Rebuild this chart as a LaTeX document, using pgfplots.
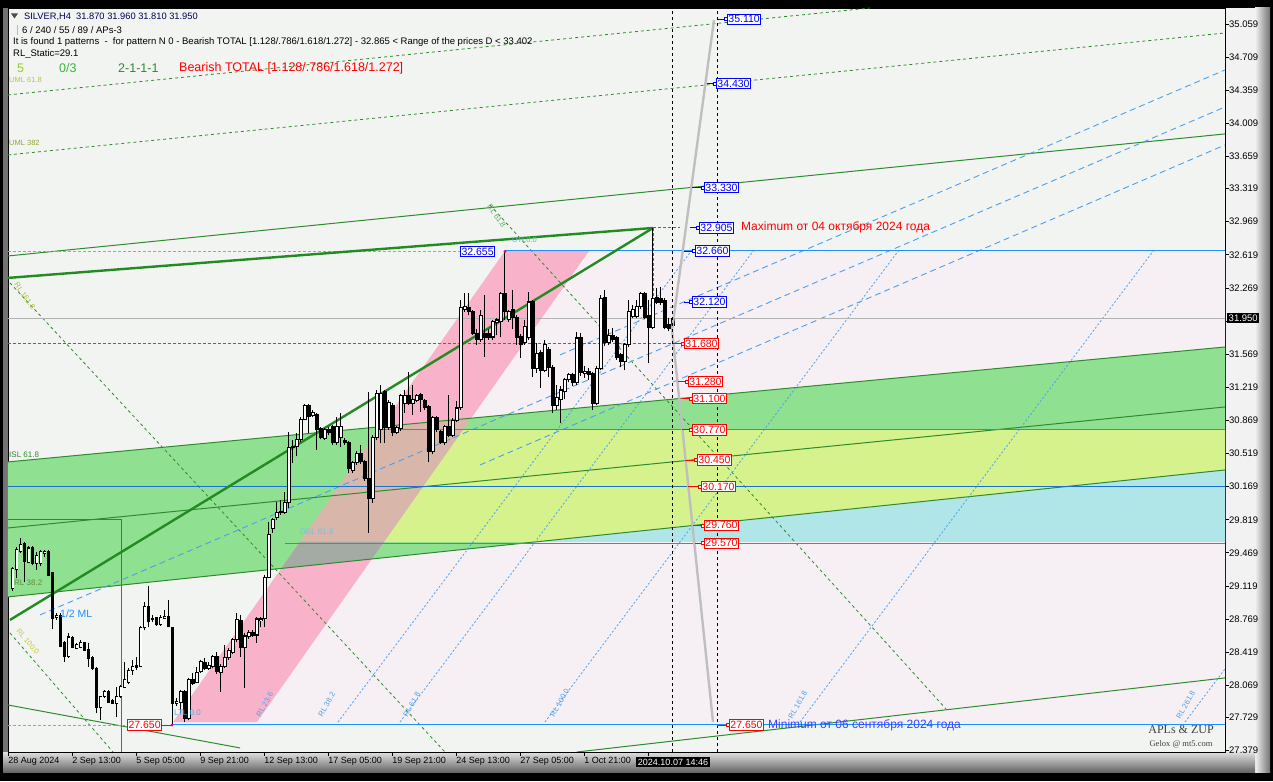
\documentclass[border=0pt]{standalone}
\usepackage{fontspec}
\setmainfont{Liberation Sans}
\newfontfamily\seriffont{Liberation Serif}
\usepackage{pgfplots}
\usepackage{pgfplotstable}
\pgfplotsset{compat=1.18}
\newcommand\fs[1]{\fontsize{#1}{#1}\selectfont}
\definecolor{chartbg}{HTML}{F2F4F1}
\definecolor{pinkbg}{HTML}{F6F0F4}
\definecolor{bandgreen}{HTML}{8FE090}
\definecolor{bandyellow}{HTML}{D6F28C}
\definecolor{bandcyan}{HTML}{B0E6E8}
\definecolor{chanpink}{HTML}{F8B2C9}
\definecolor{rosy}{HTML}{D8B6AA}
\definecolor{grayov}{HTML}{A4ABA4}
\definecolor{dkgreen}{HTML}{2E8B2E}
\definecolor{thkgreen}{HTML}{228B22}
\definecolor{lvlblue}{HTML}{1E90FF}
\definecolor{lblblue}{HTML}{0000FF}
\definecolor{lblred}{HTML}{FF0000}
\definecolor{rlblue}{HTML}{4AA0F0}
\definecolor{panelgray}{HTML}{C8C8C8}
\definecolor{rightpanel}{HTML}{F2F2F2}
\pgfplotsset{candle/.style={only marks, mark=*, mark size=0pt, mark options={draw=none, fill=none}, forget plot,
  error bars/.cd, y dir=plus, y explicit, error mark=none}}

\pgfplotstableread{
i o h l c
0 29.09 29.32 29.07 29.30
1 29.29 29.53 29.20 29.50
2 29.48 29.63 29.47 29.56
3 29.57 29.58 29.16 29.38
4 29.37 29.54 29.36 29.52
5 29.52 29.54 29.34 29.36
6 29.36 29.48 29.29 29.44
7 29.36 29.50 29.33 29.48
8 29.46 29.50 29.43 29.48
9 29.48 29.50 29.22 29.23
10 29.26 29.27 28.66 28.78
11 28.79 28.83 28.76 28.81
12 28.81 28.83 28.47 28.48
13 28.52 28.54 28.31 28.37
14 28.37 28.62 28.36 28.58
15 28.57 28.59 28.46 28.47
16 28.46 28.52 28.45 28.50
17 28.47 28.55 28.46 28.52
18 28.52 28.53 28.43 28.44
19 28.45 28.52 28.26 28.35
20 28.36 28.38 28.23 28.25
21 28.25 28.26 27.78 27.83
22 27.83 27.96 27.70 27.95
23 27.95 28.02 27.94 28.00
24 28.00 28.02 27.88 27.89
25 27.91 27.92 27.87 27.88
26 27.88 28.05 27.73 27.95
27 27.95 28.07 27.94 28.06
28 28.05 28.32 28.05 28.13
29 28.10 28.25 28.08 28.23
30 28.23 28.34 28.18 28.27
31 28.28 28.37 28.23 28.26
32 28.27 28.70 28.26 28.68
33 28.68 28.95 28.65 28.90
34 28.90 29.12 28.68 28.74
35 28.76 28.81 28.74 28.77
36 28.78 28.79 28.70 28.71
37 28.71 28.81 28.70 28.79
38 28.78 28.87 28.77 28.80
39 28.80 28.97 28.68 28.69
40 28.68 28.69 27.65 27.88
41 27.88 27.93 27.85 27.90
42 27.89 28.02 27.78 28.00
43 28.00 28.02 27.68 27.72
44 27.72 28.15 27.70 28.13
45 28.13 28.20 28.07 28.09
46 28.10 28.26 28.09 28.20
47 28.21 28.34 28.20 28.32
48 28.31 28.36 28.23 28.25
49 28.25 28.31 28.23 28.28
50 28.27 28.39 28.25 28.37
51 28.37 28.42 28.19 28.21
52 28.20 28.29 28.00 28.27
53 28.27 28.49 28.25 28.36
54 28.36 28.46 28.34 28.44
55 28.42 28.57 28.40 28.55
56 28.55 28.83 28.53 28.76
57 28.75 28.81 28.37 28.47
58 28.47 28.62 28.04 28.59
59 28.58 28.65 28.56 28.63
60 28.63 28.65 28.58 28.60
61 28.60 28.79 28.52 28.77
62 28.75 28.79 28.68 28.77
63 28.77 29.23 28.68 29.21
64 29.21 29.80 29.20 29.66
65 29.73 29.84 29.68 29.82
66 29.84 30.01 29.82 29.90
67 29.90 30.03 29.87 29.91
68 29.90 30.11 29.88 30.00
69 30.00 30.75 29.94 30.58
70 30.58 30.66 30.42 30.59
71 30.59 30.74 30.49 30.67
72 30.67 30.91 30.64 30.88
73 30.88 31.04 30.87 31.03
74 31.03 31.04 30.74 30.91
75 30.92 30.98 30.90 30.95
76 30.93 30.95 30.56 30.77
77 30.78 30.80 30.67 30.69
78 30.68 30.79 30.66 30.77
79 30.77 30.80 30.71 30.74
80 30.80 30.82 30.61 30.63
81 30.63 30.90 30.61 30.80
82 30.69 30.95 30.59 30.80
83 30.66 30.68 30.61 30.64
84 30.63 30.65 30.31 30.36
85 30.34 30.44 30.31 30.42
86 30.42 30.55 30.40 30.52
87 30.52 30.61 30.41 30.43
88 30.43 30.45 30.23 30.25
89 30.25 31.17 29.68 30.04
90 30.04 30.71 30.00 30.69
91 30.69 31.19 30.66 31.15
92 30.77 31.24 30.63 31.15
93 31.17 31.19 30.63 30.79
94 30.79 31.08 30.77 31.06
95 31.03 31.05 30.70 30.74
96 30.74 30.81 30.72 30.79
97 30.78 31.15 30.76 31.13
98 31.05 31.19 30.95 31.13
99 31.13 31.38 31.03 31.05
100 31.05 31.24 30.93 31.09
101 31.08 31.15 31.06 31.13
102 31.14 31.16 30.96 31.09
103 31.08 31.10 30.98 31.00
104 31.01 31.03 30.43 30.54
105 30.54 30.92 30.51 30.90
106 30.90 30.92 30.75 30.77
107 30.75 30.77 30.62 30.64
108 30.63 30.82 30.61 30.80
109 30.80 31.14 30.69 30.71
110 30.71 30.89 30.69 30.87
111 30.87 31.07 30.85 31.00
112 31.00 32.14 30.98 32.06
113 32.04 32.22 32.02 32.07
114 32.06 32.22 31.98 32.02
115 32.02 32.04 31.77 31.79
116 31.79 31.83 31.67 31.72
117 31.72 32.04 31.70 31.98
118 31.79 32.19 31.54 31.75
119 31.79 31.83 31.72 31.75
120 31.75 31.93 31.72 31.91
121 31.90 31.95 31.77 31.93
122 31.91 32.23 31.75 32.21
123 32.21 32.655 31.93 32.02
124 31.93 32.04 31.91 32.02
125 32.04 32.25 31.83 31.96
126 31.96 31.98 31.67 31.75
127 31.76 31.78 31.53 31.67
128 31.69 31.93 31.67 31.86
129 31.74 32.23 31.72 32.12
130 32.12 32.14 31.33 31.42
131 31.42 31.69 31.37 31.58
132 31.59 31.61 31.21 31.40
133 31.40 31.72 31.38 31.67
134 31.62 31.65 31.33 31.43
135 31.43 31.45 30.95 31.03
136 31.03 31.24 30.98 31.11
137 31.09 31.23 30.84 31.19
138 31.17 31.32 31.09 31.30
139 31.30 31.37 31.27 31.35
140 31.35 31.37 31.23 31.27
141 31.27 31.80 31.24 31.74
142 31.74 31.79 31.34 31.38
143 31.36 31.44 31.32 31.39
144 31.39 31.42 31.30 31.35
145 31.36 31.38 30.98 31.05
146 31.05 31.44 31.03 31.42
147 31.42 32.19 31.40 32.16
148 32.17 32.25 31.66 31.69
149 31.69 31.83 31.67 31.77
150 31.77 31.85 31.70 31.72
151 31.74 31.76 31.51 31.53
152 31.56 31.58 31.43 31.49
153 31.49 31.69 31.40 31.67
154 31.67 32.14 31.65 32.02
155 31.97 32.09 31.95 32.04
156 31.97 32.14 31.95 32.07
157 32.07 32.23 32.05 32.21
158 32.21 32.23 31.94 31.96
159 31.98 32.14 31.48 31.85
160 31.85 32.905 31.83 32.16
161 32.17 32.27 32.10 32.12
162 32.16 32.28 32.09 32.12
163 32.14 32.16 31.83 31.85
164 31.88 31.95 31.81 31.84
165 31.87 31.96 31.81 31.95
}\candles

\begin{document}
\begin{tikzpicture}
\useasboundingbox (0,0) rectangle (1273pt,781pt);
\fill[black] (0,0) rectangle (1273pt,781pt);
\fill[panelgray] (3pt,9pt) rectangle (1270pt,773pt);
\fill[rightpanel] (1225pt,9pt) rectangle (1255pt,773pt);
\shade[left color=rightpanel,right color=black!55] (1255pt,9pt) rectangle (1270pt,773pt);
\shade[top color=black!12,bottom color=black!60] (3pt,9pt) rectangle (1255pt,29pt);
\fill[black!55] (3pt,29pt) rectangle (8pt,773pt);

\begin{axis}[
  at={(8pt,29pt)}, anchor=south west,
  scale only axis, width=1217pt, height=744pt,
  xmin=-1.175, xmax=303.075, ymin=27.364, ymax=35.228,
  axis background/.style={fill=chartbg},
  axis line style={black, line width=0.8pt},
  tick align=outside, major tick length=4pt,
  every tick/.style={black, line width=0.8pt},
  xtick pos=left, ytick pos=right, yticklabel pos=right,
  xtick={-1,15,31,47,63,79,95,111,127,143,159},
  xticklabels={28 Aug 2024, 2 Sep 13:00, 5 Sep 05:00, 9 Sep 21:00, 12 Sep 13:00, 17 Sep 05:00, 19 Sep 21:00, 24 Sep 13:00, 27 Sep 05:00, 1 Oct 21:00, {}},
  xticklabel style={anchor=north west, xshift=-1.5pt, inner sep=1pt, font=\fs{9}},
  ytick={27.379,27.729,28.069,28.419,28.769,29.119,29.469,29.819,30.169,30.519,30.869,31.219,31.569,31.919,32.269,32.619,32.969,33.319,33.659,34.009,34.359,34.709,35.059},
  yticklabels={27.379,27.729,28.069,28.419,28.769,29.119,29.469,29.819,30.169,30.519,30.869,31.219,31.569,{},32.269,32.619,32.969,33.319,33.659,34.009,34.359,34.709,35.059},
  yticklabel style={anchor=west, xshift=-1pt, inner sep=1pt, font=\fs{9.5}},
]
% ---------- background zones ----------
\addplot[fill=pinkbg, draw=none, forget plot] coordinates {(144.08,32.660) (303.08,32.660) (303.08,27.681) (61.08,27.681)} -- cycle;
\addplot[fill=bandgreen, draw=none, forget plot] coordinates {(-1.18,30.430) (303.08,31.645) (303.08,30.345) (-1.18,29.003)} -- cycle;
\addplot[fill=bandyellow, draw=none, forget plot] coordinates {(91.83,30.778) (303.08,30.778) (303.08,30.345) (131.08,29.584) (71.83,29.584)} -- cycle;
\addplot[fill=bandcyan, draw=none, forget plot] coordinates {(131.08,29.584) (303.08,30.345) (303.08,29.584)} -- cycle;
\addplot[fill=chanpink, draw=none, forget plot] coordinates {(40.08,27.681) (61.08,27.681) (144.08,32.660) (123.08,32.660)} -- cycle;
\addplot[fill=rosy, draw=none, forget plot] coordinates {(92.13,30.803) (114.63,30.893) (89.80,29.404) (67.13,29.304)} -- cycle;
\addplot[fill=grayov, draw=none, forget plot] coordinates {(71.80,29.584) (92.80,29.584) (89.80,29.404) (67.13,29.304)} -- cycle;

% ---------- band lines ----------
\addplot[dkgreen, line width=1pt, forget plot] coordinates {(-1.18,30.430) (303.08,31.645)};
\addplot[dkgreen, line width=1pt, forget plot] coordinates {(-1.18,29.003) (303.08,30.345)};
\addplot[dkgreen, line width=1pt, forget plot] coordinates {(-1.18,29.732) (303.08,31.011)};
\addplot[dkgreen, line width=1pt, forget plot] coordinates {(-1.18,32.607) (303.08,33.897)};
\addplot[dkgreen, line width=0.8pt, dash pattern=on 3pt off 3pt, forget plot] coordinates {(-1.18,34.309) (214.33,35.228)};
\addplot[dkgreen, line width=0.8pt, dash pattern=on 3pt off 3pt, forget plot] coordinates {(-1.18,33.675) (303.08,34.964)};
\addplot[dkgreen, line width=0.8pt, dash pattern=on 3pt off 3pt, forget plot] coordinates {(-0.68,32.322) (108.08,27.364)};
\addplot[dkgreen, line width=0.8pt, dash pattern=on 3pt off 3pt, forget plot] coordinates {(-0.68,28.622) (25.08,27.364)};
\addplot[dkgreen, line width=0.8pt, dash pattern=on 3pt off 3pt, forget plot] coordinates {(119.33,33.146) (233.33,27.819)};
\addplot[dkgreen, line width=1pt, forget plot] coordinates {(141.08,27.364) (303.08,28.147)};
\addplot[dkgreen, line width=1pt, forget plot] coordinates {(-1.18,27.861) (56.83,27.407)};
\addplot[dkgreen, line width=0.8pt, forget plot] coordinates {(-1.18,29.827) (27.08,29.827) (27.08,27.364)};

% ---------- blue lines ----------
\addplot[rlblue, line width=0.9pt, dash pattern=on 6pt off 4pt, forget plot] coordinates {(6.83,28.813) (303.08,34.182)};
\addplot[rlblue, line width=0.9pt, dash pattern=on 6pt off 4pt, forget plot] coordinates {(136.83,31.561) (303.08,34.573)};
\addplot[rlblue, line width=0.9pt, dash pattern=on 6pt off 4pt, forget plot] coordinates {(116.83,30.398) (303.08,33.780)};
\addplot[rlblue, line width=0.8pt, dash pattern=on 2pt off 2pt, forget plot] coordinates {(81.33,27.681) (169.83,32.671)};
\addplot[rlblue, line width=0.8pt, dash pattern=on 2pt off 2pt, forget plot] coordinates {(96.83,27.681) (185.33,32.671)};
\addplot[rlblue, line width=0.8pt, dash pattern=on 2pt off 2pt, forget plot] coordinates {(133.08,27.681) (221.58,32.671)};
\addplot[rlblue, line width=0.8pt, dash pattern=on 2pt off 2pt, forget plot] coordinates {(196.83,27.681) (285.33,32.671)};
\addplot[rlblue, line width=0.8pt, dash pattern=on 2pt off 2pt, forget plot] coordinates {(293.08,27.681) (303.08,28.242)};

% horizontal levels
\addplot[lvlblue, line width=1pt, forget plot] coordinates {(123.08,32.660) (303.08,32.660)};
\addplot[lvlblue!70, line width=0.8pt, dash pattern=on 3pt off 2pt, forget plot] coordinates {(-1.18,32.655) (111.83,32.655)};
\addplot[black!30, line width=0.8pt, forget plot] coordinates {(-1.18,31.950) (303.08,31.950)};
\addplot[dkgreen, line width=0.8pt, dash pattern=on 3pt off 2pt, forget plot] coordinates {(-1.18,31.680) (167.58,31.680)};
\addplot[lvlblue, line width=1pt, forget plot] coordinates {(91.83,30.770) (303.08,30.770)};
\addplot[lvlblue!80!black, line width=0.9pt, forget plot] coordinates {(-1.18,30.170) (303.08,30.170)};
\addplot[lvlblue, line width=1pt, forget plot] coordinates {(68.08,29.570) (303.08,29.570)};
\addplot[lvlblue, line width=1pt, forget plot] coordinates {(40.08,27.650) (303.08,27.650)};
\addplot[lvlblue!70, line width=0.8pt, dash pattern=on 3pt off 2pt, forget plot] coordinates {(-1.18,27.650) (28.08,27.650)};

% ---------- thick triangle ----------
\addplot[thkgreen, line width=2.4pt, forget plot] coordinates {(-1.18,32.375) (160.08,32.903)};
\addplot[thkgreen, line width=2.4pt, forget plot] coordinates {(-0.68,28.760) (160.08,32.903)};

% ---------- candles ----------
\addplot[candle, error bar style={draw=black, line width=1pt}]
  table[x=i, y=l, y error plus expr={\thisrow{h}-\thisrow{l}}] {\candles};
\addplot[candle, error bar style={draw=black, line width=3.6pt}]
  table[x=i, y expr={min(\thisrow{o},\thisrow{c})-0.005}, y error plus expr={abs(\thisrow{c}-\thisrow{o})+0.011}] {\candles};
\addplot[candle, error bar style={draw=white, line width=1.7pt}]
  table[x=i, y expr={min(\thisrow{o},\thisrow{c})+0.006}, y error plus expr={(\thisrow{c}>\thisrow{o}+0.013) ? (\thisrow{c}-\thisrow{o}-0.012) : 0}] {\candles};

% apex markers
\addplot[dkgreen, line width=0.8pt, dash pattern=on 3pt off 2pt, forget plot] coordinates {(160.08,32.903) (160.08,32.17)};
\addplot[dkgreen, line width=0.8pt, dash pattern=on 3pt off 2pt, forget plot] coordinates {(160.08,32.905) (166.83,32.905)};

% ---------- projection lines ----------
\addplot[black!25, line width=2.4pt, forget plot] coordinates {(175.33,35.102) (164.83,31.825) (175.08,27.681)};
\addplot[black, line width=0.8pt, dash pattern=on 3pt off 3pt, forget plot] coordinates {(164.83,27.364) (164.83,35.228)};
\addplot[black, line width=0.8pt, dash pattern=on 3pt off 3pt, forget plot] coordinates {(176.08,27.364) (176.08,35.228)};

% ---------- level labels ----------
\def\lvl#1#2#3#4#5{%
  \draw[#5, line width=0.8pt] (axis cs:#1,#3) -- (axis cs:#2,#3);
  \draw[#5, line width=0.6pt, fill=white] ([xshift=-2.5pt,yshift=-1.5pt]axis cs:#2,#3) rectangle ++(3pt,3pt);
  \node[draw=#5, fill=white, text=#5, line width=0.8pt, inner xsep=1pt, inner ysep=1.5pt, anchor=west, font=\fs{10.5}] at (axis cs:#2,#3) {#4};}
\lvl{176.33}{178.58}{35.110}{35.110}{lblblue}
\lvl{173.58}{175.83}{34.430}{34.430}{lblblue}
\lvl{169.83}{172.83}{33.330}{33.330}{lblblue}
\lvl{169.33}{171.58}{32.905}{32.905}{lblblue}
\lvl{167.83}{170.58}{32.660}{32.660}{lblblue}
\lvl{167.83}{169.83}{32.120}{32.120}{lblblue}
\lvl{165.08}{167.83}{31.680}{31.680}{lblred}
\lvl{166.33}{168.83}{31.280}{31.280}{lblred}
\lvl{167.33}{169.83}{31.100}{31.100}{lblred}
\lvl{167.33}{169.83}{30.770}{30.770}{lblred}
\lvl{168.08}{171.08}{30.450}{30.450}{lblred}
\lvl{168.83}{172.08}{30.170}{30.170}{lblred}
\lvl{170.08}{172.83}{29.760}{29.760}{lblred}
\lvl{170.58}{172.83}{29.570}{29.570}{lblred}
\lvl{176.08}{179.08}{27.650}{27.650}{lblred}
\node[draw=lblblue, fill=white, text=lblblue, line width=0.8pt, inner xsep=1pt, inner ysep=1.5pt, anchor=east, font=\fs{10.5}] at (axis cs:120.58,32.655) {32.655};
\node[draw=lblred, fill=white, text=lblred, line width=0.8pt, inner xsep=1pt, inner ysep=1.5pt, anchor=east, font=\fs{10.5}] at (axis cs:37.33,27.650) {27.650};
\draw[lblred, line width=0.8pt] (axis cs:37.33,27.650) -- (axis cs:39.83,27.650);
\fill[magenta] (axis cs:123.08,32.655) circle (1.6pt);
\fill[magenta] (axis cs:39.83,27.650) circle (1.6pt);
\node[anchor=west, text=lblred, font=\fs{12}, inner sep=0pt] at (axis cs:182.08,32.905) {Maximum от 04 октября 2024 года};
\node[anchor=west, text=blue!75!white, font=\fs{12}, inner sep=0pt] at (axis cs:188.83,27.650) {Minimum от 06 сентября 2024 года};
\end{axis}

% ---------- texts in pixel coordinates ----------
\begin{scope}[shift={(0pt,781pt)}, x=1pt, y=-1pt]
\fill[black!70] (11,13.5) -- (18,13.5) -- (14.5,18.5) -- cycle;
\node[anchor=west, inner sep=0pt, font=\fs{9.3}, text=black!65!blue] at (24,16.5) {SILVER,H4\ \ 31.870 31.960 31.810 31.950};
\fill[yellow!70!green] (16.5,25) rectangle (17.5,35);
\node[anchor=west, inner sep=0pt, font=\fs{9.5}] at (22,30) {6 / 240 / 55 / 89 / APs-3};
\node[anchor=west, inner sep=0pt, font=\fs{9.5}] at (13,42) {It is found 1 patterns\ \ -\ \ for pattern N 0 - Bearish TOTAL [1.128/.786/1.618/1.272] - 32.865 < Range of the prices D < 33.402};
\node[anchor=west, inner sep=0pt, font=\fs{9.5}] at (13,54) {RL\_Static=29.1};
\node[anchor=west, inner sep=0pt, font=\fs{12.5}, text={rgb,255:red,154;green,205;blue,50}] at (17,68.5) {5};
\node[anchor=west, inner sep=0pt, font=\fs{12.5}, text={rgb,255:red,60;green,179;blue,60}] at (59,68.5) {0/3};
\node[anchor=west, inner sep=0pt, font=\fs{12.5}, text={rgb,255:red,46;green,139;blue,46}] at (118,68.5) {2-1-1-1};
\node[anchor=west, inner sep=0pt, font=\fs{12.5}, text=lblred] at (179,68.5) {Bearish TOTAL [1.128/.786/1.618/1.272]};
\node[anchor=west, inner sep=0pt, font=\fs{7.5}, text={rgb,255:red,180;green,200;blue,60}] at (9,80) {UML 61.8};
\node[anchor=west, inner sep=0pt, font=\fs{7.5}, text={rgb,255:red,140;green,170;blue,50}] at (9,143) {UML 382};
\node[anchor=west, inner sep=0pt, font=\fs{7.5}, text={rgb,255:red,170;green,190;blue,60}, rotate=-55] at (16,283) {RL 161.8};
\node[anchor=west, inner sep=0pt, font=\fs{8}, text=dkgreen] at (9,455) {ISL 61.8};
\node[anchor=west, inner sep=0pt, font=\fs{8}, text={rgb,255:red,100;green,140;blue,60}] at (14,583) {RL 38.2};
\node[anchor=west, inner sep=0pt, font=\fs{10.5}, text=lvlblue] at (60,614) {1/2 ML};
\node[anchor=west, inner sep=0pt, font=\fs{7.5}, text={rgb,255:red,200;green,200;blue,70}, rotate=-50] at (18,630) {RL 100.0};
\node[anchor=west, inner sep=0pt, font=\fs{8}, text={rgb,255:red,70;green,180;blue,230}] at (174,713) {LTL 0.0};
\node[anchor=west, inner sep=0pt, font=\fs{8}, text={rgb,255:red,120;green,190;blue,230}] at (300,532) {DBL 61.8};
\node[anchor=west, inner sep=0pt, font=\fs{7.5}, text={rgb,255:red,90;green,170;blue,90}, rotate=-55] at (489,205) {RL 61.8};
\node[anchor=west, inner sep=0pt, font=\fs{7.5}, text={rgb,255:red,110;green,170;blue,210}] at (512,240) {UTL0.0};
\node[anchor=west, inner sep=0pt, font=\fs{7.5}, text=rlblue, rotate=60] at (258,716) {RL 23.6};
\node[anchor=west, inner sep=0pt, font=\fs{7.5}, text=rlblue, rotate=60] at (320,716) {RL 38.2};
\node[anchor=west, inner sep=0pt, font=\fs{7.5}, text=rlblue, rotate=60] at (405,716) {RL 61.8};
\node[anchor=west, inner sep=0pt, font=\fs{7.5}, text=rlblue, rotate=60] at (552,716) {RL 100.0};
\node[anchor=west, inner sep=0pt, font=\fs{7.5}, text=rlblue, rotate=60] at (790,718) {RL 161.8};
\node[anchor=west, inner sep=0pt, font=\fs{7.5}, text=rlblue, rotate=60] at (1178,718) {RL 261.8};
\node[inner sep=0pt, font=\seriffont\fs{12}, text=black!75] at (1181,730) {APLs \& ZUP};
\node[inner sep=0pt, font=\seriffont\fs{8.5}, text=black!75] at (1181,744) {Gelox @ mt5.com};
\node[anchor=west, fill=black, text=white, inner xsep=1.5pt, inner ysep=2pt, font=\fs{9.5}] at (1227,318) {31.950};
\node[fill=black, text=white, inner xsep=2pt, inner ysep=1.5pt, font=\fs{9}] at (673,762) {2024.10.07 14:46};
\end{scope}
\end{tikzpicture}
\end{document}
